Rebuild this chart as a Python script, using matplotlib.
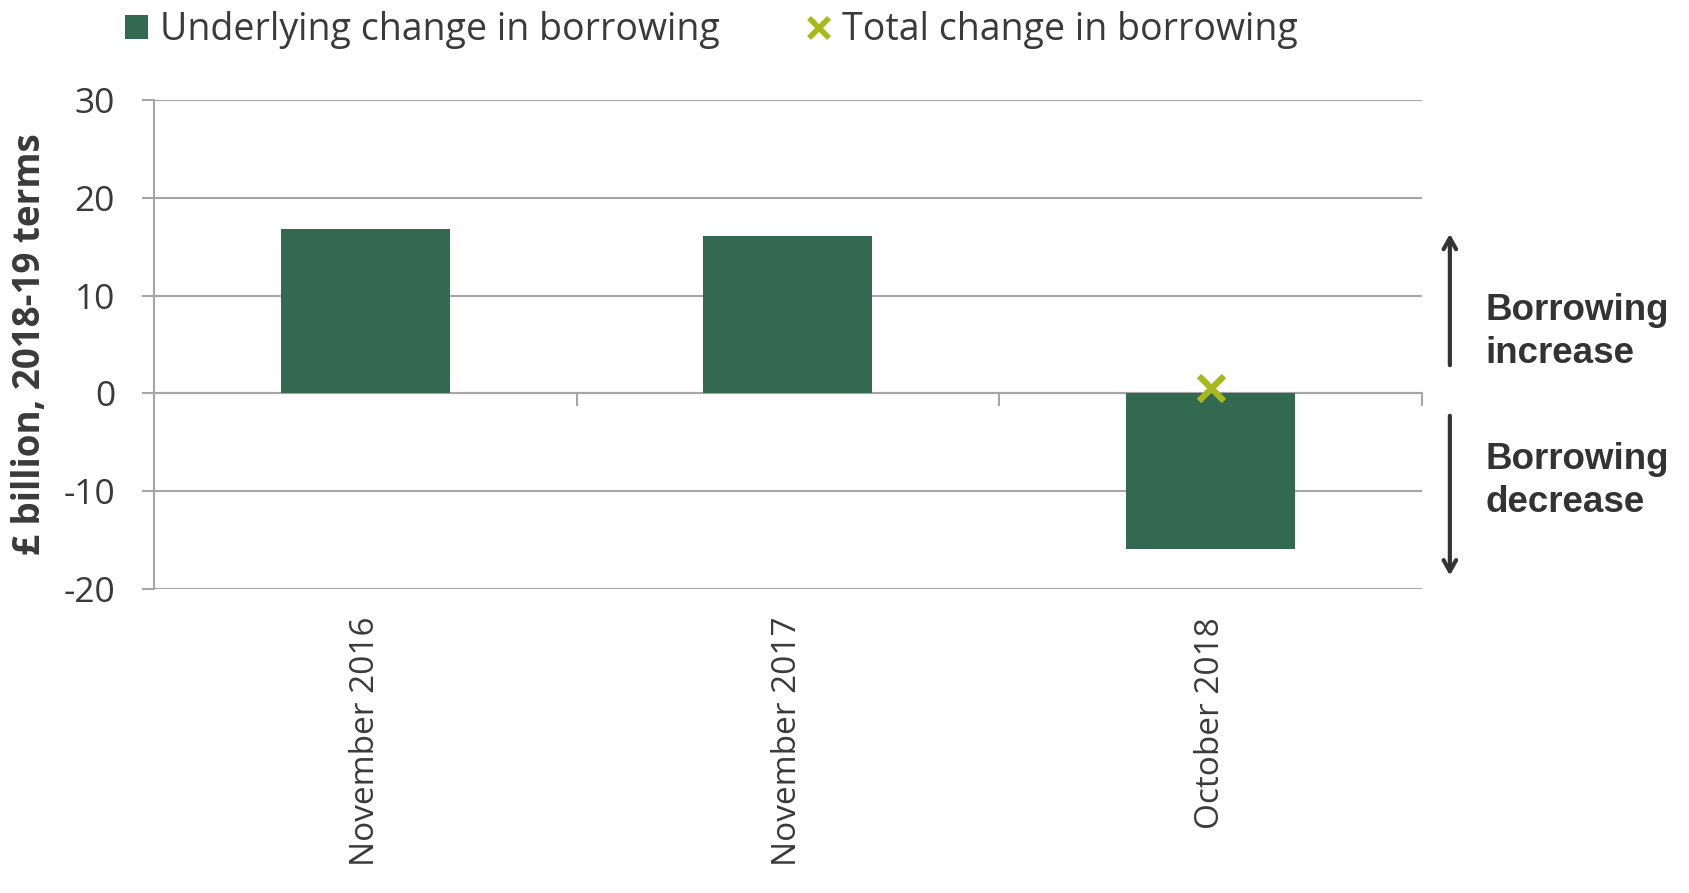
import matplotlib
matplotlib.use("Agg")
import matplotlib.pyplot as plt
from matplotlib.patches import Patch
from matplotlib.lines import Line2D

categories = ["November 2016", "November 2017", "October 2018"]
underlying = [16.8, 16.1, -15.9]
total_cats = ["October 2018"]
total = [0.6]
yticks = [-20, -10, 0, 10, 20, 30]

BAR = "#336950"
MARK = "#A9B81B"
GRID = "#A6A6A6"
TXT = "#3a3a3a"

plt.rcParams["font.family"] = ["Open Sans", "DejaVu Sans"]

fig = plt.figure(figsize=(16.9, 8.93), dpi=100)
ax = fig.add_axes([0.0911, 0.3404, 0.7503, 0.5476])

x = list(range(len(categories)))
ax.bar(x, underlying, width=0.4, color=BAR, zorder=3)
tx = [categories.index(c) for c in total_cats]
ax.plot(tx, total, linestyle="none", marker="x", markersize=18, mew=4.5,
        color=MARK, zorder=4)

ax.set_xlim(-0.5, len(categories) - 0.5)
ax.set_ylim(-20, 30)
ax.set_yticks(yticks)
ax.set_yticklabels([str(v) for v in yticks], fontsize=25.5, color=TXT)
ax.yaxis.grid(True, color=GRID, linewidth=1.5, zorder=0)
ax.tick_params(axis="y", length=9, width=1.5, color=GRID, pad=19)

ax.set_xticks(x)
ax.set_xticklabels(categories, rotation=90, fontsize=24, color=TXT)
ax.tick_params(axis="x", length=0, pad=20)

for s in ["top", "right", "bottom"]:
    ax.spines[s].set_visible(False)
ax.spines["left"].set_color(GRID)
ax.spines["left"].set_linewidth(1.5)

# category axis at zero with boundary ticks
sec = ax.secondary_xaxis(0.4)
sec.set_xticks([i + 0.5 for i in range(len(categories))])
sec.set_xticklabels([])
sec.tick_params(axis="x", length=9, width=1.5, color=GRID)
sec.spines["bottom"].set_color(GRID)
sec.spines["bottom"].set_linewidth(1.5)

ax.set_ylabel("£ billion, 2018-19 terms", fontsize=26.5, fontweight="bold", color=TXT)
ax.yaxis.set_label_coords(-0.083, 0.5)

# legend
handles = [Patch(facecolor=BAR, edgecolor="none"),
           Line2D([], [], linestyle="none", marker="x", markersize=15, mew=4, color=MARK)]
leg = fig.legend(handles, ["Underlying change in borrowing", "Total change in borrowing"],
                 loc="upper left", bbox_to_anchor=(0.054, 1.025), ncol=2, frameon=False,
                 fontsize=27, handlelength=0.62, handleheight=0.62, handletextpad=0.3,
                 columnspacing=2.35)
for t in leg.get_texts():
    t.set_color(TXT)

# side annotations
arrowprops = dict(arrowstyle="->,head_width=0.45,head_length=0.8", color="#333333", lw=3)
ax.annotate("", xy=(1.022, 16.6), xytext=(1.022, 2.6),
            xycoords=("axes fraction", "data"), textcoords=("axes fraction", "data"),
            arrowprops=arrowprops, annotation_clip=False)
ax.annotate("", xy=(1.022, -18.9), xytext=(1.022, -2.0),
            xycoords=("axes fraction", "data"), textcoords=("axes fraction", "data"),
            arrowprops=arrowprops, annotation_clip=False)
ax.text(1.050, 6.3, "Borrowing\nincrease", transform=ax.get_yaxis_transform(),
        fontsize=26.5, fontweight="bold", family="Liberation Sans", color="#333333",
        va="center", ha="left", linespacing=1.3)
ax.text(1.050, -9.0, "Borrowing\ndecrease", transform=ax.get_yaxis_transform(),
        fontsize=26.5, fontweight="bold", family="Liberation Sans", color="#333333",
        va="center", ha="left", linespacing=1.3)

fig.savefig("out.png", dpi=100)
